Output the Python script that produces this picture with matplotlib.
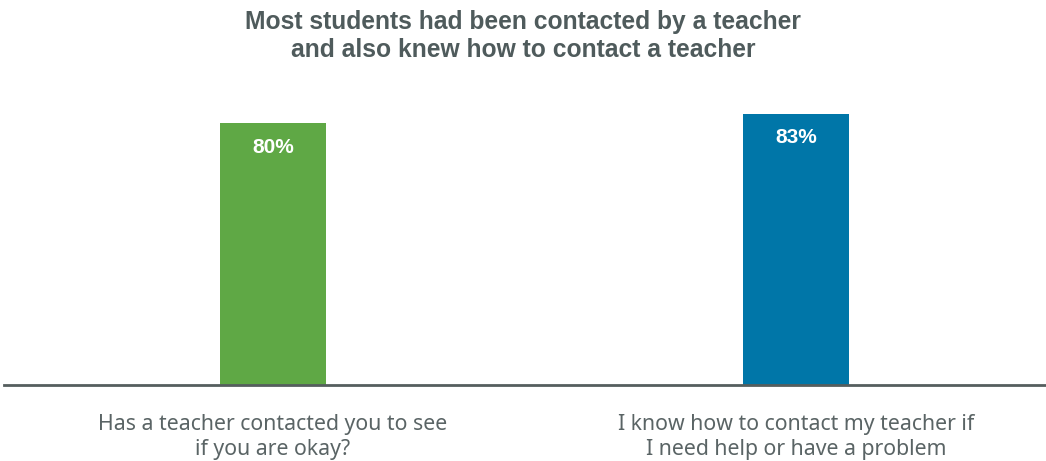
import matplotlib
matplotlib.use("Agg")
import matplotlib.pyplot as plt

categories = [
    "Has a teacher contacted you to see\nif you are okay?",
    "I know how to contact my teacher if\nI need help or have a problem",
]
values = [80, 83]
bar_colors = ["#5fa845", "#0076a8"]
title = "Most students had been contacted by a teacher\nand also knew how to contact a teacher"

W, H = 1046, 461
fig = plt.figure(figsize=(W / 100, H / 100), dpi=100)
base_y = 385
top_y = 58
ax = fig.add_axes([4 / W, (H - base_y) / H, 1 - 4 / W, (base_y - top_y) / H])

x = list(range(len(categories)))
bars = ax.bar(x, values, width=106 / 523, color=bar_colors, zorder=2)
ax.set_xlim(-(273 - 4) / 523, 1 + (1046 - 796) / 523)
ax.set_ylim(0, 100)

for b, v in zip(bars, values):
    ax.annotate(f"{v}%", (b.get_x() + b.get_width() / 2, v), xytext=(0, -24),
                textcoords="offset pixels",
                ha="center", va="center", color="white", fontsize=15,
                fontweight="bold", family="Liberation Sans")

for s in ["top", "right", "left"]:
    ax.spines[s].set_visible(False)
ax.spines["bottom"].set_color("#555e5e")
ax.spines["bottom"].set_linewidth(2)
ax.set_yticks([])
ax.set_xticks(x)
ax.set_xticklabels(categories, family="Noto Sans", fontsize=15.3, color="#5a6465",
                   linespacing=1.23)
ax.tick_params(axis="x", length=0, pad=21)

fig.text(523 / W, 1 - 10 / H, title, ha="center", va="top", fontsize=17.75,
         fontweight="bold", color="#4f5b5c", family="Liberation Sans",
         linespacing=1.2)

fig.savefig("out.png", dpi=100)
